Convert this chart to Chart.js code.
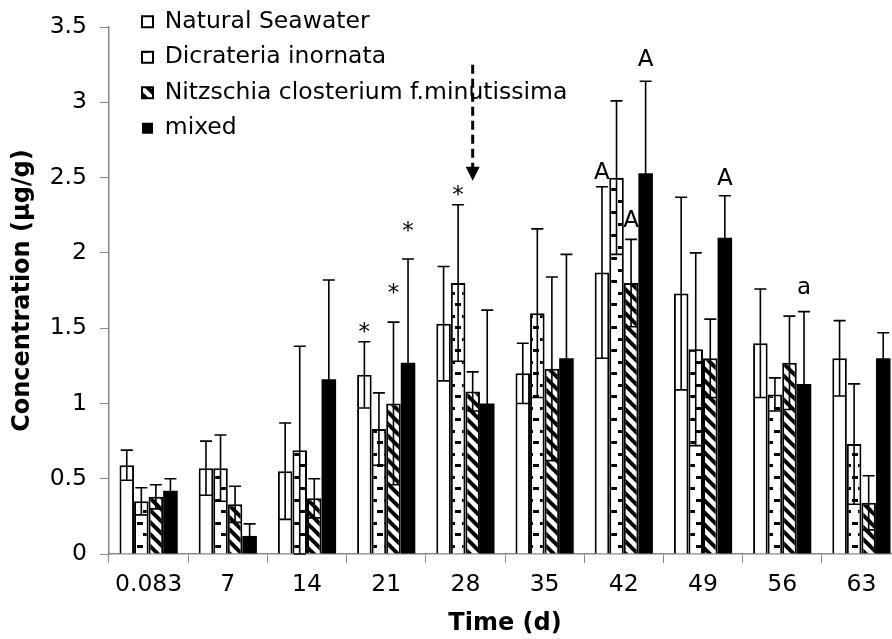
<!DOCTYPE html>
<html>
<head>
<meta charset="utf-8">
<script src="https://cdn.jsdelivr.net/npm/chart.js@4"></script>
<style>
  html, body { margin: 0; padding: 0; background: #fff; overflow: hidden; }
  #wrap { width: 902px; height: 639px; position: relative; }
</style>
</head>
<body>
<div id="wrap"><canvas id="conc"></canvas></div>
<script>
const days = ['0.083', '7', '14', '21', '28', '35', '42', '49', '56', '63'];

const seawater   = [0.59, 0.57, 0.55, 1.19, 1.53, 1.20, 1.87, 1.73, 1.40, 1.30];
const seawaterSd = [0.10, 0.18, 0.32, 0.22, 0.38, 0.20, 0.57, 0.64, 0.36, 0.25];

const dicrateria   = [0.35, 0.57, 0.69, 0.83, 1.80, 1.60, 2.50, 1.36, 1.06, 0.73];
const dicrateriaSd = [0.09, 0.22, 0.69, 0.24, 0.52, 0.56, 0.51, 0.64, 0.11, 0.40];

const nitzschia   = [0.38, 0.33, 0.37, 1.00, 1.08, 1.23, 1.80, 1.30, 1.27, 0.34];
const nitzschiaSd = [0.08, 0.12, 0.13, 0.54, 0.13, 0.61, 0.29, 0.26, 0.31, 0.18];

const mixed   = [0.42, 0.12, 1.16, 1.27, 1.00, 1.30, 2.53, 2.10, 1.13, 1.30];
const mixedSd = [0.08, 0.08, 0.66, 0.69, 0.62, 0.69, 0.61, 0.28, 0.48, 0.17];

const yTicks = [0, 0.5, 1, 1.5, 2, 2.5, 3, 3.5];

// significance marks: [series index, category index, text, value level]
const marks = [
  [0, 3, '*', 1.47],
  [2, 3, '*', 1.73],
  [3, 3, '*', 2.14],
  [1, 4, '*', 2.38],
  [0, 6, 'A', 2.53],
  [2, 6, 'A', 2.21],
  [3, 6, 'A', 3.28],
  [3, 7, 'A', 2.49],
  [3, 8, 'a', 1.77]
];
// dashed arrow over Nitzschia at day 28: [series, category, from, to]
const arrow = [2, 4, 3.25, 2.48];

const FONT = "'DejaVu Sans', Verdana, sans-serif";

function dashPattern() {
  const c = document.createElement('canvas');
  c.width = 13; c.height = 23;
  const g = c.getContext('2d');
  g.fillStyle = '#fff';
  g.fillRect(0, 0, 13, 23);
  g.fillStyle = '#000';
  g.fillRect(0, 4, 6, 3);
  g.fillRect(7, 16, 6, 3);
  return g.createPattern(c, 'repeat');
}

function diagPattern() {
  const c = document.createElement('canvas');
  c.width = 12; c.height = 12;
  const g = c.getContext('2d');
  g.fillStyle = '#fff';
  g.fillRect(0, 0, 12, 12);
  g.strokeStyle = '#000';
  g.lineWidth = 4;
  [-12, 0, 12].forEach(k => {
    g.beginPath();
    g.moveTo(k - 2, -2);
    g.lineTo(k + 14, 14);
    g.stroke();
  });
  return g.createPattern(c, 'repeat');
}

const sds = [seawaterSd, dicrateriaSd, nitzschiaSd, mixedSd];

const errorBars = {
  id: 'errorBars',
  afterDatasetsDraw(chart) {
    const ctx = chart.ctx;
    const y = chart.scales.y;
    ctx.save();
    ctx.strokeStyle = '#000';
    ctx.lineWidth = 1.6;
    chart.data.datasets.forEach((ds, i) => {
      const meta = chart.getDatasetMeta(i);
      meta.data.forEach((bar, j) => {
        const v = ds.data[j], e = sds[i][j];
        const top = y.getPixelForValue(v + e);
        const bot = y.getPixelForValue(Math.max(0, v - e));
        ctx.beginPath();
        ctx.moveTo(bar.x, top); ctx.lineTo(bar.x, bot);
        ctx.moveTo(bar.x - 6, top); ctx.lineTo(bar.x + 6, top);
        ctx.moveTo(bar.x - 6, bot); ctx.lineTo(bar.x + 6, bot);
        ctx.stroke();
      });
    });

    ctx.fillStyle = '#000';
    ctx.textAlign = 'center';
    ctx.textBaseline = 'middle';
    ctx.font = '23px ' + FONT;
    marks.forEach(([s, c, txt, lvl]) => {
      const bar = chart.getDatasetMeta(s).data[c];
      ctx.fillText(txt, bar.x, y.getPixelForValue(lvl));
    });

    const ab = chart.getDatasetMeta(arrow[0]).data[arrow[1]];
    const y0 = y.getPixelForValue(arrow[2]);
    const y1 = y.getPixelForValue(arrow[3]);
    ctx.lineWidth = 3;
    ctx.setLineDash([9, 5]);
    ctx.beginPath();
    ctx.moveTo(ab.x, y0); ctx.lineTo(ab.x, y1 - 12);
    ctx.stroke();
    ctx.setLineDash([]);
    ctx.beginPath();
    ctx.moveTo(ab.x - 7, y1 - 14);
    ctx.lineTo(ab.x + 7, y1 - 14);
    ctx.lineTo(ab.x, y1);
    ctx.closePath();
    ctx.fill();
    ctx.restore();
  }
};

const placeLegend = {
  id: 'placeLegend',
  afterLayout(chart) {
    const lg = chart.legend;
    const w = lg.width, h = lg.height;
    lg.left = 130; lg.top = -2;
    lg.right = lg.left + w; lg.bottom = lg.top + h;
  }
};

new Chart('conc', {
  type: 'bar',
  data: {
    labels: days,
    datasets: [
      { label: 'Natural Seawater', data: seawater, backgroundColor: '#fff', borderColor: '#000', borderWidth: 2 },
      { label: 'Dicrateria inornata', data: dicrateria, backgroundColor: dashPattern(), borderColor: '#000', borderWidth: 2 },
      { label: 'Nitzschia closterium f.minutissima', data: nitzschia, backgroundColor: diagPattern(), borderColor: '#000', borderWidth: 2 },
      { label: 'mixed', data: mixed, backgroundColor: '#000', borderColor: '#000', borderWidth: 0 }
    ]
  },
  options: {
    responsive: true,
    maintainAspectRatio: false,
    animation: false,
    categoryPercentage: 0.735,
    barPercentage: 1.0,
    layout: { padding: { top: 15, right: 1, bottom: 0, left: 0 } },
    plugins: {
      tooltip: { enabled: false },
      legend: {
        display: true,
        position: 'chartArea',
        align: 'start',
        labels: {
          color: '#000',
          font: { family: FONT, size: 23.5 },
          boxWidth: 11,
          boxHeight: 11,
          padding: 12
        }
      }
    },
    scales: {
      x: {
        grid: { display: true, drawOnChartArea: false, offset: true, tickLength: 9, color: '#888' },
        border: { color: '#888', width: 1.5 },
        ticks: { color: '#000', font: { family: FONT, size: 23.5 }, padding: 8, maxRotation: 0 },
        title: { display: true, text: 'Time (d)', color: '#000', font: { family: FONT, size: 24, weight: 'bold' }, padding: { top: 1, bottom: 1 } },
        afterFit(s) { s.height = 85; }
      },
      y: {
        min: 0,
        max: 3.5,
        afterBuildTicks(s) { s.ticks = yTicks.map(v => ({ value: v })); },
        grid: { display: true, drawOnChartArea: false, tickLength: 9, color: '#888' },
        border: { color: '#888', width: 1.5 },
        ticks: { color: '#000', font: { family: FONT, size: 23.5 }, padding: 13, callback: v => String(v) },
        title: { display: true, text: 'Concentration (µg/g)', color: '#000', font: { family: FONT, size: 24, weight: 'bold' }, padding: { top: 8, bottom: 8 } },
        afterFit(s) { s.width = 109; }
      }
    }
  },
  plugins: [errorBars, placeLegend]
});
</script>
</body>
</html>
